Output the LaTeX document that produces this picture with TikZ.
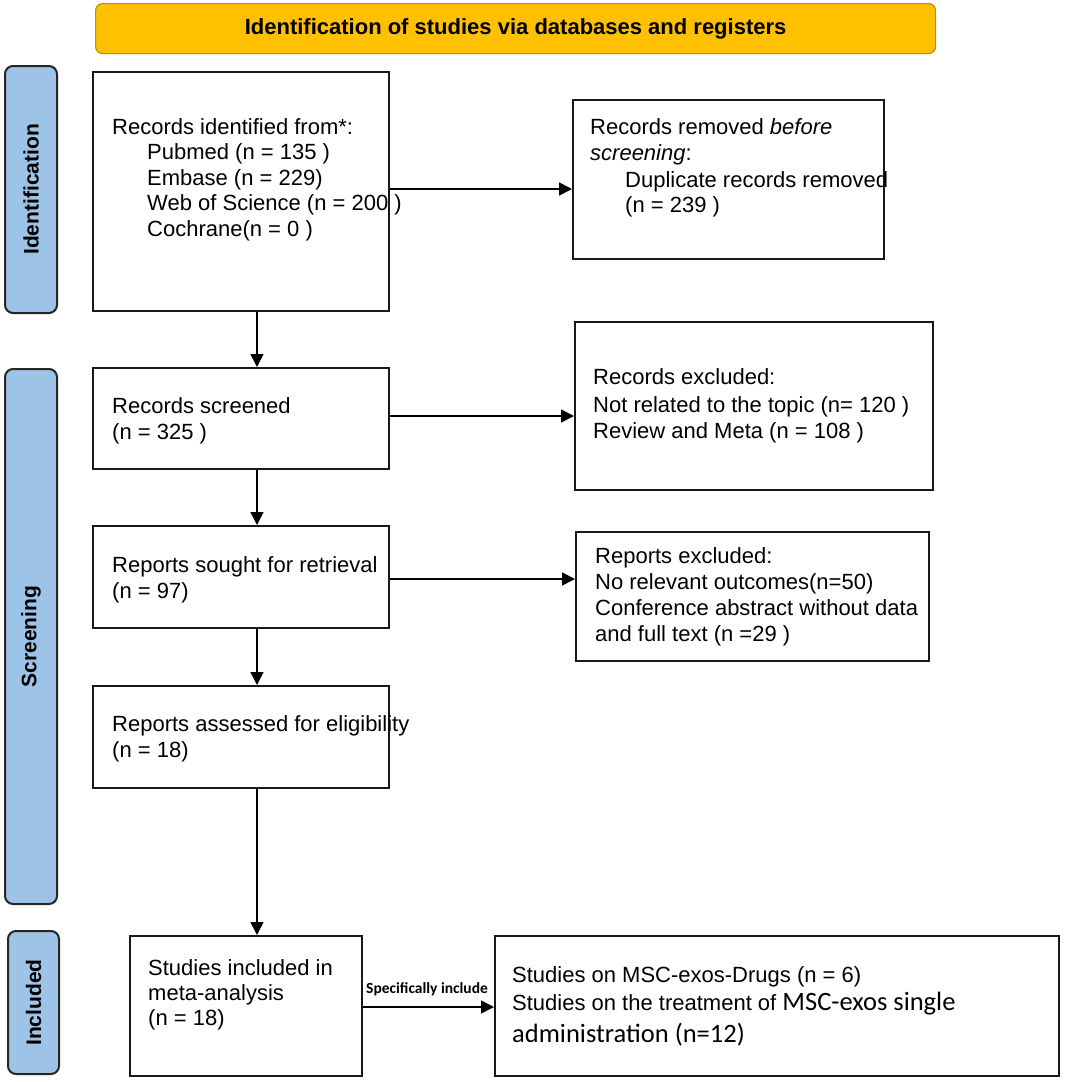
\documentclass[tikz,border=0pt]{standalone}
\usepackage{fontspec}
\setmainfont{Liberation Sans}
\newfontfamily\calib{Carlito}
\usetikzlibrary{arrows.meta}
\definecolor{stageblue}{HTML}{9DC3E6}
\definecolor{banneryellow}{HTML}{FFC000}
\definecolor{bannerborder}{HTML}{C09000}
\tikzset{
  box/.style={draw=black!90, line width=2pt, fill=white, anchor=north west, inner sep=0pt},
  stage/.style={draw=black!85, line width=2pt, fill=stageblue, rounded corners=8pt, anchor=north west, inner sep=0pt},
  stagelabel/.style={rotate=90, inner sep=0pt, font=\bfseries\fontsize{21}{21}\selectfont},
  txt/.style={anchor=base west, inner sep=0pt, font=\fontsize{22}{26}\selectfont},
  ctxt/.style={anchor=base west, inner sep=0pt, font=\calib\fontsize{26.5}{30}\selectfont},
  arr/.style={line width=1.5pt, -{Triangle[width=13pt,length=13pt]}}
}
\begin{document}
\begin{tikzpicture}[x=1pt,y=-1pt]
\useasboundingbox (0,0) rectangle (1065,1082);

% banner
\node[draw=bannerborder, line width=1.2pt, fill=banneryellow, rounded corners=7pt,
      anchor=north west, inner sep=0pt, minimum width=840pt, minimum height=50pt] (banner) at (95,3) {};
\node[font=\bfseries\fontsize{22}{22}\selectfont, inner sep=0pt] (bannertxt) at (banner.center) {Identification of studies via databases and registers};

% stage boxes
\node[stage, minimum width=52pt, minimum height=247pt] (sid) at (4,65) {};
\node[stagelabel] (sidl) at (sid.center) {Identification};
\node[stage, minimum width=52pt, minimum height=535pt] (sscr) at (4,368) {};
\node[stagelabel] (sscrl) at (sscr.center) {Screening};
\node[stage, minimum width=51pt, minimum height=143pt] (sinc) at (7,930) {};
\node[stagelabel] (sincl) at (sinc.center) {Included};

% boxes
\node[box, minimum width=296pt, minimum height=239pt] (ident) at (92,71) {};
\node[box, minimum width=311pt, minimum height=159pt] (removed) at (572,99) {};
\node[box, minimum width=296pt, minimum height=101pt] (screened) at (92,367) {};
\node[box, minimum width=358pt, minimum height=168pt] (excl1) at (574,321) {};
\node[box, minimum width=296pt, minimum height=102pt] (sought) at (92,525) {};
\node[box, minimum width=353pt, minimum height=129pt] (excl2) at (575,531) {};
\node[box, minimum width=296pt, minimum height=102pt] (assessed) at (92,685) {};
\node[box, minimum width=232pt, minimum height=140pt] (incl) at (129,935) {};
\node[box, minimum width=564pt, minimum height=140pt] (msc) at (494,935) {};

% texts
\node[txt] (t1a) at (112,134) {Records identified from*:};
\node[txt] (t1b) at (147,159.5) {Pubmed (n = 135 )};
\node[txt] (t1c) at (147,185) {Embase (n = 229)};
\node[txt] (t1d) at (147,210.5) {Web of Science (n = 200 )};
\node[txt] (t1e) at (147,236) {Cochrane(n = 0 )};

\node[txt] (t2a) at (590,134) {Records removed \textit{before}};
\node[txt] (t2b) at (590,160) {\textit{screening}:};
\node[txt] (t2c) at (625,187) {Duplicate records removed};
\node[txt] (t2d) at (625,212) {(n = 239 )};

\node[txt] (t3a) at (112,413) {Records screened};
\node[txt] (t3b) at (112,439) {(n = 325 )};

\node[txt] (t4a) at (593,384) {Records excluded:};
\node[txt] (t4b) at (593,412) {Not related to the topic (n= 120 )};
\node[txt] (t4c) at (593,438) {Review and Meta (n = 108 )};

\node[txt] (t5a) at (112,572) {Reports sought for retrieval};
\node[txt] (t5b) at (112,598) {(n = 97)};

\node[txt] (t6a) at (595,563) {Reports excluded:};
\node[txt] (t6b) at (595,589) {No relevant outcomes(n=50)};
\node[txt] (t6c) at (595,615) {Conference abstract without data};
\node[txt] (t6d) at (595,641) {and full text (n =29 )};

\node[txt] (t7a) at (112,731) {Reports assessed for eligibility};
\node[txt] (t7b) at (112,757) {(n = 18)};

\node[txt] (t8a) at (148,975) {Studies included in};
\node[txt] (t8b) at (148,1000) {meta-analysis};
\node[txt] (t8c) at (148,1025) {(n = 18)};

\node[txt] (t9a) at (512,982) {Studies on MSC-exos-Drugs (n = 6)};
\node[txt] (t9b) at (512,1010) {Studies on the treatment of {\calib\fontsize{26.5}{30}\selectfont MSC-exos single}};
\node[ctxt] (t9c) at (512,1042) {administration (n=12)};

% connectors
\coordinate (vx) at (257,0);
\coordinate (h1) at (0,189);
\coordinate (h2) at (0,416);
\coordinate (h3) at (0,579);
\coordinate (h4) at (0,1007);

\draw[arr] (vx |- ident.south) -- (vx |- screened.north);
\draw[arr] (vx |- screened.south) -- (vx |- sought.north);
\draw[arr] (vx |- sought.south) -- (vx |- assessed.north);
\draw[arr] (vx |- assessed.south) -- (vx |- incl.north);

\draw[arr] (ident.east |- h1) -- (removed.west |- h1);
\draw[arr] (screened.east |- h2) -- (excl1.west |- h2);
\draw[arr] (sought.east |- h3) -- (excl2.west |- h3);
\draw[arr] (incl.east |- h4) -- (msc.west |- h4);
\node[anchor=base west, inner sep=0pt, font=\calib\bfseries\fontsize{15.5}{16}\selectfont] (spec) at (366,993) {Specifically include};
\end{tikzpicture}
\end{document}
